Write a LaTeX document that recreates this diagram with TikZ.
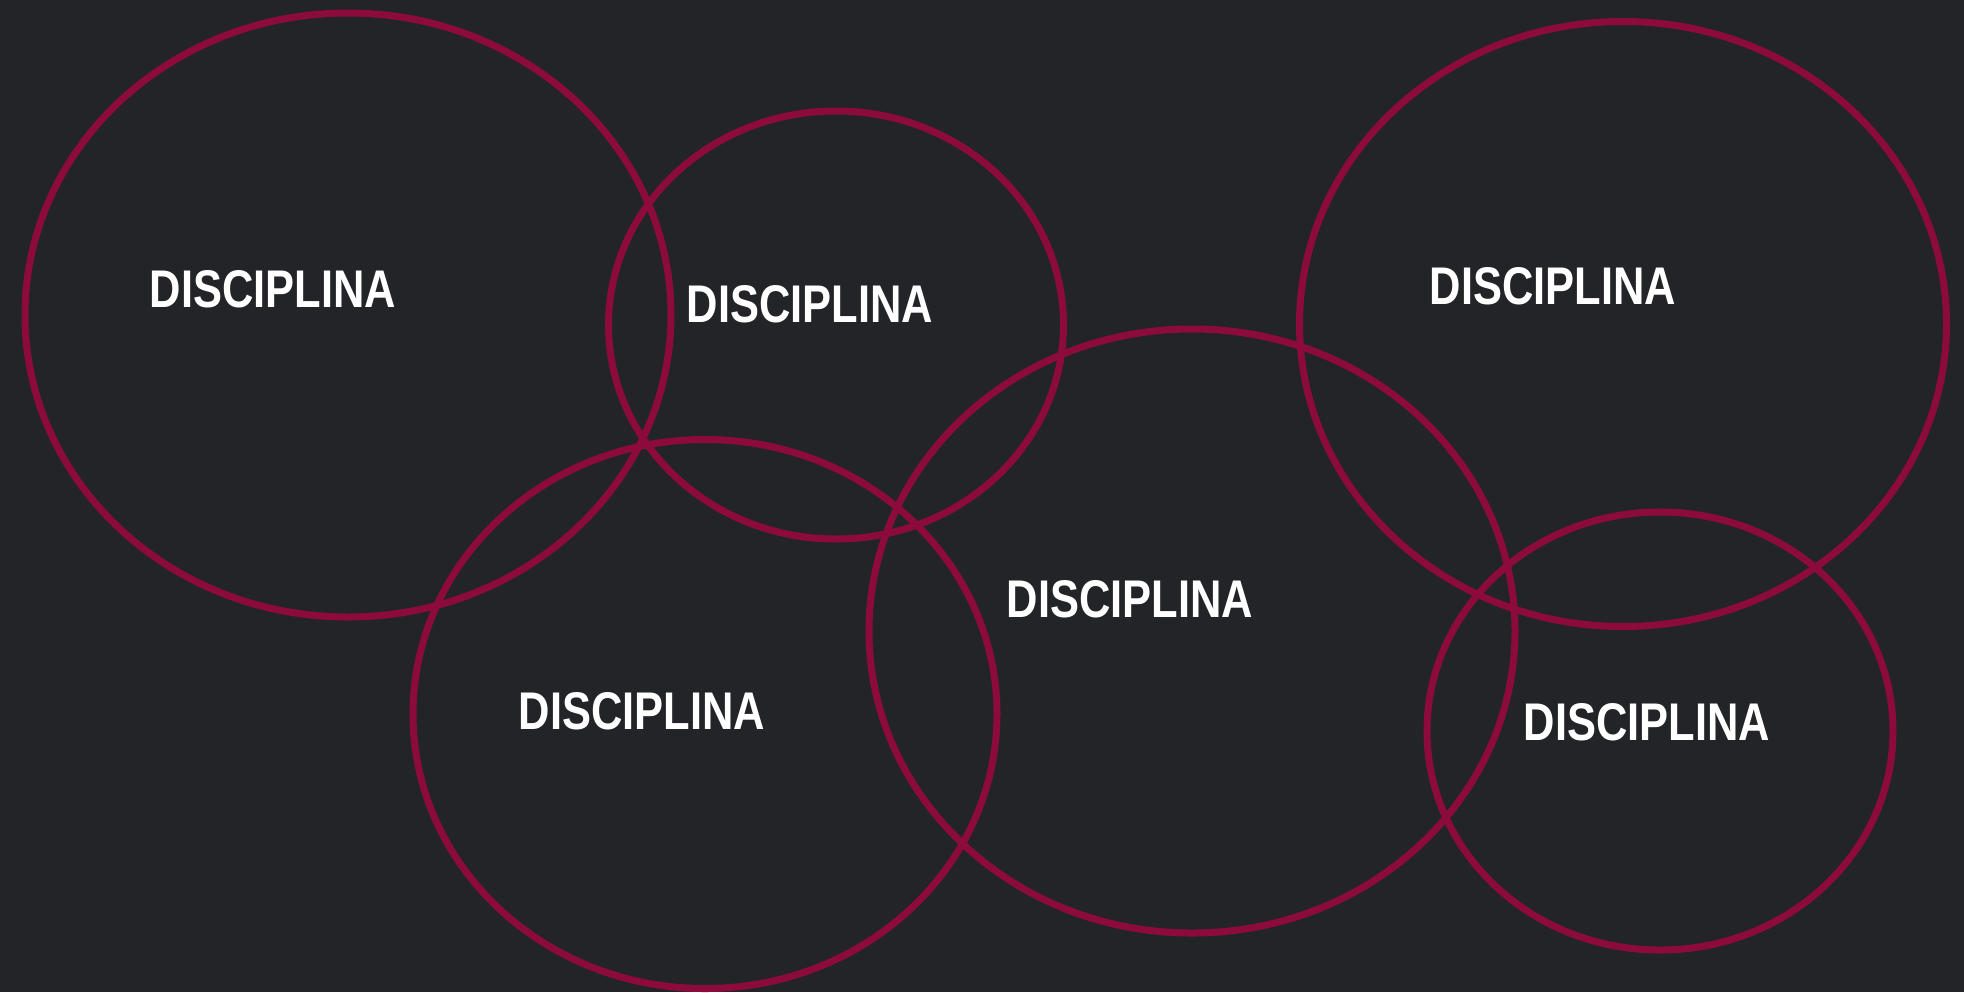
\documentclass[tikz,border=0pt]{standalone}
\usepackage{fontspec}
\setmainfont{Liberation Sans}
\usetikzlibrary{shapes.geometric}
\definecolor{bgdark}{HTML}{232428}
\definecolor{ringred}{HTML}{8C0A3C}
\newcommand{\disclabel}[1]{\scalebox{0.82}[1]{#1}}

\begin{document}
\begin{tikzpicture}[x=0.5pt,y=-0.5pt,
ring/.style={ellipse, draw=ringred, line width=3.5pt, inner sep=0pt},
disc/.style={text=white, inner sep=0pt, font=\fontsize{26.5}{30}\selectfont\bfseries}
]
\fill[bgdark] (0,0) rectangle (1964,992);
\useasboundingbox (0,0) rectangle (1964,992);

\node[ring, minimum width=323pt, minimum height=302pt](ring_a) at (348,315){};
\node[ring, minimum width=227.5pt, minimum height=214pt](ring_b) at (836,325){};
\node[ring, minimum width=292pt, minimum height=274.5pt](ring_c) at (705,714){};
\node[ring, minimum width=323pt, minimum height=302pt](ring_d) at (1192,631){};
\node[ring, minimum width=323.5pt, minimum height=302.5pt](ring_e) at (1623,324){};
\node[ring, minimum width=233pt, minimum height=219pt](ring_f) at (1660,731){};

\node[disc](disc_a) at (273,289){\disclabel{DISCIPLINA}};
\node[disc](disc_b) at (810,304){\disclabel{DISCIPLINA}};
\node[disc](disc_c) at (642,711){\disclabel{DISCIPLINA}};
\node[disc](disc_d) at (1130,599){\disclabel{DISCIPLINA}};
\node[disc](disc_e) at (1553,286){\disclabel{DISCIPLINA}};
\node[disc](disc_f) at (1647,722){\disclabel{DISCIPLINA}};
\end{tikzpicture}
\end{document}
